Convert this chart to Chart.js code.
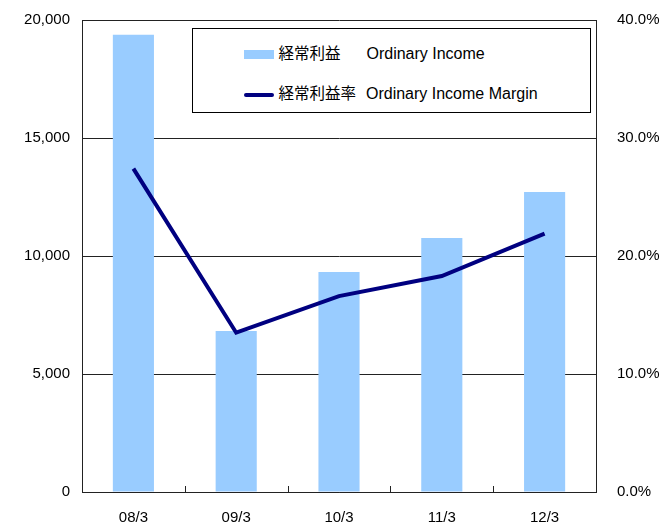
<!DOCTYPE html>
<html>
<head>
<meta charset="utf-8">
<script src="https://cdn.jsdelivr.net/npm/chart.js@4/dist/chart.umd.min.js"></script>
<style>
  body { margin: 0; background: #fff; }
  #wrap { position: relative; width: 660px; height: 525px; }
  #legend {
    position: absolute; left: 192px; top: 28px; width: 397px; height: 83px;
    border: 1px solid #000; background: #fff;
    font-family: "Liberation Sans", "Noto Sans CJK JP", sans-serif; font-size: 16px; color: #000;
  }
  .row { position: absolute; left: 51px; height: 20px; line-height: 20px; white-space: nowrap; }
  .sw { display: inline-block; width: 30px; vertical-align: middle; }
  .jp { font-family: "Noto Sans CJK JP", sans-serif; font-size: 15.5px; }
</style>
</head>
<body>
<div id="wrap">
  <canvas id="chart" width="660" height="525"></canvas>
  <div id="legend">
    <div class="row" style="top:13px"><span class="sw" style="height:9px;background:#99CCFF"></span> <span class="jp">経常利益</span><span style="margin-left:26px">Ordinary Income</span></div>
    <div class="row" style="top:53px"><span class="sw" style="height:4px;background:#000080;border-radius:2px"></span> <span class="jp">経常利益率</span><span style="margin-left:10px">Ordinary Income Margin</span></div>
  </div>
</div>
<script>
// =====================
// DATA
// =====================
const categories = ["08/3", "09/3", "10/3", "11/3", "12/3"];
const ordinaryIncome = [19370, 6820, 9320, 10760, 12710];
const incomeMargin = [27.4, 13.5, 16.6, 18.3, 21.9];
const leftTicks = [0, 5000, 10000, 15000, 20000];
const rightTicks = [0, 10, 20, 30, 40];

// tick marks between categories, pointing up into the plot
const innerTicks = {
  id: "innerTicks",
  afterDraw(chart) {
    const x = chart.scales.x;
    const ctx = chart.ctx;
    const bottom = chart.chartArea.bottom;
    ctx.save();
    ctx.strokeStyle = "#222";
    ctx.lineWidth = 1;
    for (let i = 1; i < categories.length; i++) {
      const px = Math.round((x.getPixelForValue(i - 1) + x.getPixelForValue(i)) / 2) + 0.5;
      ctx.beginPath();
      ctx.moveTo(px, bottom);
      ctx.lineTo(px, bottom - 6);
      ctx.stroke();
    }
    ctx.restore();
  }
};

const font = { family: "'Liberation Sans', Arial, sans-serif", size: 15 };

// fixed axis sizes so the plot area sits where the original has it
function fixY(width) {
  return s => { s.width = width; s.paddingTop = 0; s.paddingBottom = 0; };
}

new Chart(document.getElementById("chart"), {
  data: {
    labels: categories,
    datasets: [
      {
        type: "line",
        label: "経常利益率 Ordinary Income Margin",
        data: incomeMargin,
        yAxisID: "y2",
        borderColor: "#000080",
        borderWidth: 4,
        pointRadius: 0,
        tension: 0,
        order: 0
      },
      {
        type: "bar",
        label: "経常利益 Ordinary Income",
        data: ordinaryIncome,
        yAxisID: "y",
        backgroundColor: "#99CCFF",
        categoryPercentage: 1,
        barPercentage: 0.4,
        order: 1
      }
    ]
  },
  plugins: [innerTicks],
  options: {
    responsive: false,
    animation: false,
    layout: { padding: { top: 20, left: 0, right: 0, bottom: 0 } },
    plugins: {
      legend: { display: false },
      tooltip: { enabled: false }
    },
    scales: {
      x: {
        offset: true,
        grid: { display: false },
        border: { color: "#222", width: 1 },
        ticks: { color: "#000", font: font, padding: 9 },
        afterFit(s) { s.height = 33; s.paddingLeft = 0; s.paddingRight = 0; }
      },
      y: {
        position: "left",
        min: 0,
        max: 20000,
        afterBuildTicks(s) { s.ticks = leftTicks.map(v => ({ value: v })); },
        grid: { color: "#222", drawTicks: false },
        border: { color: "#222", width: 1 },
        ticks: {
          color: "#000", font: font, padding: 12,
          callback: v => v.toLocaleString("en-US")
        },
        afterFit: fixY(82)
      },
      y2: {
        position: "right",
        min: 0,
        max: 40,
        afterBuildTicks(s) { s.ticks = rightTicks.map(v => ({ value: v })); },
        grid: { drawOnChartArea: false, drawTicks: false },
        border: { color: "#222", width: 1 },
        ticks: {
          color: "#000", font: font, padding: 21,
          callback: v => v.toFixed(1) + "%"
        },
        afterFit: fixY(64)
      }
    }
  }
});
</script>
</body>
</html>
